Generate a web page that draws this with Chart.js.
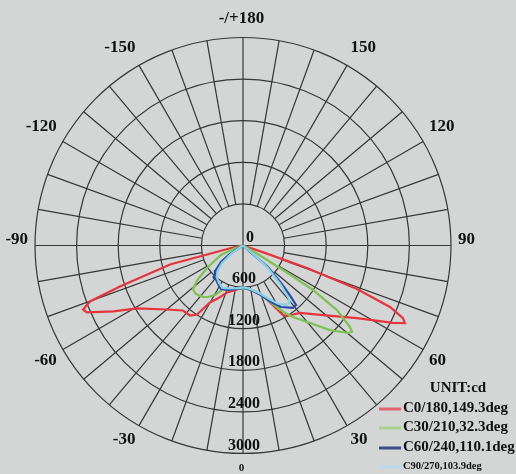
<!DOCTYPE html>
<html><head><meta charset="utf-8">
<script src="https://cdn.jsdelivr.net/npm/chart.js@4.4.1/dist/chart.umd.min.js"></script>
<style>html,body{margin:0;padding:0;background:#d4d5d5;overflow:hidden}#c{display:block}</style>
</head><body>
<canvas id="c" width="516" height="474"></canvas>
<script>
// ---- data (gamma in degrees, intensity in cd) ----
const seriesNames = ['C0/180,149.3deg','C30/210,32.3deg','C60/240,110.1deg','C90/270,103.9deg'];
const c0Gamma = [-80,-78.7,-75.4,-71.6,-69.9,-68.2,-66.8,-63,-59.3,-50,-42.7,-37.1,-33.7,-30.1,-25,-18.8,-10,-4,0,8,15,23,26,29.9,32,40.2,49,57.5,62.7,64.4,65.6,67.3,69.1,70.6,71.5,72];
const c0Cd    = [0,147,1088,1870,2350,2485,2449,2096,1778,1436,1276,1266,1196,950,837,716,655,622,615,640,690,810,940,1157,1199,1274,1529,1949,2435,2590,2534,2298,1760,978,300,0];
const c30Gamma = [-75,-70,-66.6,-58.4,-53.3,-49,-45,-42.3,-38,-34.2,-29.5,-25.3,-15,-4,5,15,22.7,29.2,31.9,35,40.8,45.8,50.2,51.6,52.7,55.5,57.6,58.5,59.5,60];
const c30Cd    = [0,150,346,592,810,956,975,965,940,898,820,710,650,628,630,680,821,1033,1147,1258,1477,1750,1971,2006,1940,1644,1196,677,250,0];
const c60Gamma = [-62,-56.8,-53.1,-47.8,-41.6,-33,-26.8,-18.6,-8,2.7,10.2,20,26.4,31.7,38.7,41.7,43,45.4,49,48,47];
const c60Cd    = [0,224,397,526,608,662,703,677,630,613,652,760,910,1043,1154,1150,1015,770,476,150,0];
const c90Gamma = [-60,-55,-50,-45,-40,-33,-26,-18,-8,2,10,20,26,31,36,39,41,44,48,50,50];
const c90Cd    = [0,200,400,520,590,640,680,650,620,605,640,740,860,980,1060,1070,1000,780,480,200,0];
const ringValues = [0,600,1200,1800,2400,3000];
const ringLabels = ['0','600','1200','1800','2400','3000'];
const angleValues = [180,150,120,90,60,30,0,-30,-60,-90,-120,-150];
const angleTexts  = ['-/+180','150','120','90','60','30','0','-30','-60','-90','-120','-150'];
const unitText = 'UNIT:cd';

const colors = ['#e6353d','#7cc353','#2c4aa5','#86d2e8'];
const legendColors = ['#e2646e','#a9d38e','#3d4c86','#b6dcee'];

function toPoints(g, v){
  return g.map((a,i)=>({x: v[i]*Math.sin(a*Math.PI/180), y: -v[i]*Math.cos(a*Math.PI/180)}));
}
const gammas=[c0Gamma,c30Gamma,c60Gamma,c90Gamma];
const cds=[c0Cd,c30Cd,c60Cd,c90Cd];

const SERIF='"Liberation Serif","Times New Roman",serif';

const polarGrid = {
  id:'polarGrid',
  beforeDatasetsDraw(chart){
    const {ctx, scales:{x,y}} = chart;
    const cx=x.getPixelForValue(0), cy=y.getPixelForValue(0);
    const px=v=>x.getPixelForValue(v)-cx;
    ctx.save();
    ctx.strokeStyle='#363636'; ctx.lineWidth=1.2;
    ringValues.forEach(v=>{ if(v<=0) return; ctx.beginPath(); ctx.arc(cx,cy,px(v),0,Math.PI*2); ctx.stroke(); });
    const rIn=px(ringValues[1]), rOut=px(ringValues[ringValues.length-1]);
    for(let a=0;a<360;a+=10){
      const t=a*Math.PI/180, s=Math.sin(t), c=Math.cos(t);
      const start = (a%90===0)?0:rIn;
      ctx.beginPath(); ctx.moveTo(cx+start*s, cy+start*c); ctx.lineTo(cx+rOut*s, cy+rOut*c); ctx.stroke();
    }
    ctx.restore();
  },
  afterDraw(chart){
    const {ctx, scales:{x,y}} = chart;
    const cx=x.getPixelForValue(0), cy=y.getPixelForValue(0);
    const px=v=>x.getPixelForValue(v)-cx;
    ctx.save();
    ctx.fillStyle='#111';
    ctx.textBaseline='middle';
    ctx.font='bold 16px '+SERIF; ctx.textAlign='center';
    ringValues.forEach((v,i)=>{ ctx.fillText(ringLabels[i], cx+1+(i===0?6:0), cy+px(v)-8); });
    const R=px(3100);
    angleValues.forEach((a,i)=>{
      const t=a*Math.PI/180, s=Math.sin(t), c=Math.cos(t);
      let ax=cx+R*s, ay=cy+R*c;
      if(Math.abs(s)<0.1){ ctx.textAlign='center'; ax-=1.5; }
      else ctx.textAlign = s>0?'left':'right';
      ay += c>0.1?7.5:(c<-0.1?-11.5:-5.5);
      ctx.font = (a===0?'bold 11px ':'bold 17px ')+SERIF;
      ctx.fillText(angleTexts[i], ax, ay);
    });
    ctx.textAlign='center'; ctx.font='bold 15px '+SERIF;
    ctx.fillText(unitText, 458, 388);
    const ys=[409,428,448,467];
    seriesNames.forEach((n,i)=>{
      ctx.strokeStyle=legendColors[i]; ctx.lineWidth=3;
      ctx.beginPath(); ctx.moveTo(379,ys[i]); ctx.lineTo(401,ys[i]); ctx.stroke();
      ctx.textAlign='left';
      ctx.font=(i===3?'bold 10.5px ':'bold 15px ')+SERIF;
      ctx.fillText(n, 403, ys[i]-1);
    });
    ctx.restore();
  }
};

new Chart(document.getElementById('c'), {
  type:'scatter',
  data:{ datasets: seriesNames.map((n,i)=>({
    label:n, data:toPoints(gammas[i],cds[i]), showLine:true, borderColor:colors[i],
    backgroundColor:colors[i],
    borderWidth:2.2,
    pointRadius: i===2 ? gammas[i].map((g,k)=>k===4?2.5:0) : 0,
    pointBorderWidth:0,
    tension:0, fill:false, order:4-i
  }))},
  options:{
    responsive:false, animation:false, devicePixelRatio:1,
    layout:{padding:0},
    plugins:{legend:{display:false}, tooltip:{enabled:false}},
    scales:{
      x:{type:'linear', display:false, min:-3505, max:3938},
      y:{type:'linear', display:false, min:-3296, max:3541}
    }
  },
  plugins:[polarGrid]
});
</script>
</body></html>
